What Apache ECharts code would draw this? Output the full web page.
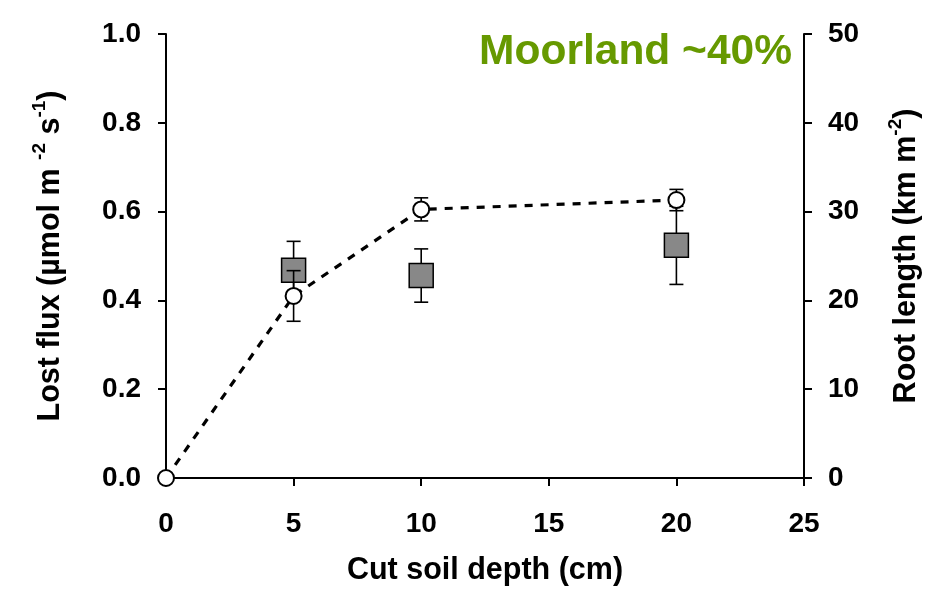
<!DOCTYPE html>
<html>
<head>
<meta charset="utf-8">
<script src="https://cdn.jsdelivr.net/npm/echarts@6/dist/echarts.min.js"></script>
<style>html,body{margin:0;padding:0;background:#fff;}#c{width:930px;height:593px;}</style>
</head>
<body>
<div id="c"></div>
<script>
// Data
var depth = [0, 5, 10, 20];
var lostFlux = [0, 0.41, 0.605, 0.626];
var lostFluxErr = [0, 0.057, 0.026, 0.024];
var rootDepth = [5, 10, 20];
var rootLength = [23.4, 22.8, 26.2];
var rootLengthErr = [3.25, 3.0, 4.4];
var titleText = 'Moorland ~40%';

var FONT = '"Liberation Sans", Arial, sans-serif';

var fluxData = depth.map(function (d, i) { return [d, lostFlux[i]]; });
var fluxErrData = depth.map(function (d, i) { return [d, lostFlux[i] - lostFluxErr[i], lostFlux[i] + lostFluxErr[i]]; });
var rootData = rootDepth.map(function (d, i) { return [d, rootLength[i]]; });
var rootErrData = rootDepth.map(function (d, i) { return [d, rootLength[i] - rootLengthErr[i], rootLength[i] + rootLengthErr[i]]; });

function errRender(params, api) {
  var x = api.value(0);
  var lo = api.coord([x, api.value(1)]);
  var hi = api.coord([x, api.value(2)]);
  var hw = 7;
  var st = { stroke: '#000', lineWidth: 1.6, fill: null };
  return {
    type: 'group',
    children: [
      { type: 'line', shape: { x1: lo[0], y1: lo[1], x2: hi[0], y2: hi[1] }, style: st },
      { type: 'line', shape: { x1: lo[0] - hw, y1: lo[1], x2: lo[0] + hw, y2: lo[1] }, style: st },
      { type: 'line', shape: { x1: hi[0] - hw, y1: hi[1], x2: hi[0] + hw, y2: hi[1] }, style: st }
    ]
  };
}

var axisCommon = {
  axisLine: { show: true, lineStyle: { color: '#000', width: 2 } },
  axisTick: { show: true, inside: false, length: 8, lineStyle: { color: '#000', width: 2 } },
  splitLine: { show: false },
  axisLabel: { color: '#000', fontSize: 28, fontWeight: 'bold', fontFamily: FONT },
  nameTextStyle: { color: '#000', fontSize: 30.5, fontWeight: 'bold', fontFamily: FONT }
};

function merge(a, b) { return Object.assign({}, a, b); }

var richName = {
  b: { fontSize: 30.5, fontWeight: 'bold', fontFamily: FONT, color: '#000', lineHeight: 36, verticalAlign: 'bottom' },
  s: { fontSize: 19, fontWeight: 'bold', fontFamily: FONT, color: '#000', lineHeight: 36, verticalAlign: 'top', padding: [0, 0, 13, 0] }
};

var chart = echarts.init(document.getElementById('c'), null, { renderer: 'canvas' });
chart.setOption({
  animation: false,
  backgroundColor: '#fff',
  grid: { left: 166, right: 125, top: 34, bottom: 115 },
  xAxis: merge(axisCommon, {
    type: 'value', min: 0, max: 25, interval: 5,
    name: 'Cut soil depth (cm)', nameLocation: 'middle', nameGap: 77,
    axisLabel: merge(axisCommon.axisLabel, { margin: 32 })
  }),
  yAxis: [
    merge(axisCommon, {
      type: 'value', min: 0, max: 1, interval: 0.2, position: 'left',
      name: '{b|Lost flux (µmol m }{s|-2}{b| s}{s|-1}{b|)}', nameLocation: 'middle', nameGap: 100, nameRotate: 90,
      nameTextStyle: merge(axisCommon.nameTextStyle, { rich: richName }),
      axisLabel: merge(axisCommon.axisLabel, { margin: 25, formatter: function (v) { return v.toFixed(1); } })
    }),
    merge(axisCommon, {
      type: 'value', min: 0, max: 50, interval: 10, position: 'right',
      name: '{b|Root length (km m}{s|-2}{b|)}', nameLocation: 'middle', nameGap: 82, nameRotate: 90,
      nameTextStyle: merge(axisCommon.nameTextStyle, { rich: richName }),
      axisLabel: merge(axisCommon.axisLabel, { margin: 24 })
    })
  ],
  graphic: [{
    type: 'text', right: 930 - 792, top: 31,
    style: { text: titleText, fill: '#669900', font: 'bold 42.5px "Liberation Sans", Arial, sans-serif' }
  }],
  series: [
    {
      type: 'custom', yAxisIndex: 1, data: rootErrData, renderItem: errRender, z: 1, silent: true
    },
    {
      type: 'scatter', yAxisIndex: 1, data: rootData, symbol: 'rect', symbolSize: 24, z: 2,
      itemStyle: { color: '#888888', borderColor: '#000', borderWidth: 1.5, opacity: 1 }
    },
    {
      type: 'custom', yAxisIndex: 0, data: fluxErrData.slice(1), renderItem: errRender, z: 3, silent: true
    },
    {
      type: 'line', yAxisIndex: 0, data: fluxData, z: 4,
      symbol: 'circle', symbolSize: 16, showSymbol: true,
      lineStyle: { color: '#000', width: 3.2, type: [8, 8] },
      itemStyle: { color: '#fff', borderColor: '#000', borderWidth: 2 }
    }
  ]
});
</script>
</body>
</html>
